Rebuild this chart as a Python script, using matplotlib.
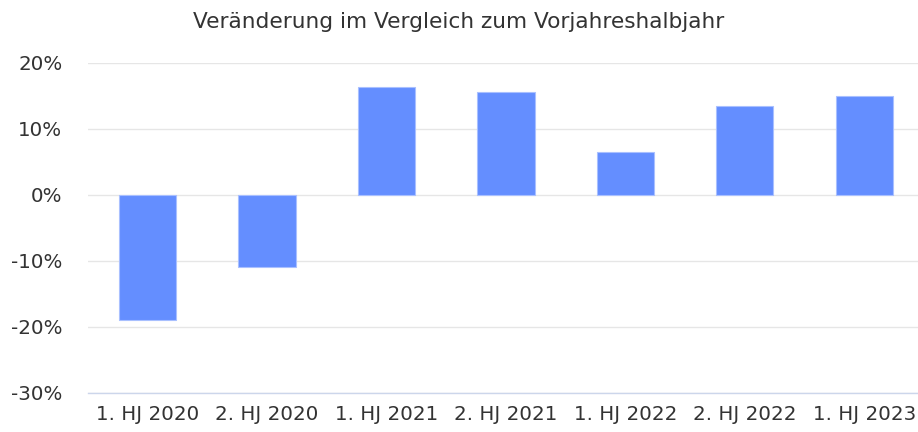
import matplotlib
matplotlib.use("Agg")
import matplotlib.pyplot as plt
from matplotlib.ticker import FuncFormatter

# Daten (Veränderung in %)
kategorien = ["1. HJ 2020", "2. HJ 2020", "1. HJ 2021", "2. HJ 2021",
              "1. HJ 2022", "2. HJ 2022", "1. HJ 2023"]
werte = [-18.9, -10.9, 16.4, 15.6, 6.5, 13.5, 15.0]
y_ticks = [-30, -20, -10, 0, 10, 20]

plt.rcParams['font.family'] = ['DejaVu Sans']

fig = plt.figure(figsize=(9.18, 4.32), dpi=100)
ax = fig.add_axes([88/918, 39/432, 830/918, 330/432])

x = list(range(len(kategorien)))
ax.bar(x, werte, width=0.48, color="#648eff", edgecolor="#a9c0ff", linewidth=0.8, zorder=3)

ax.set_ylim(-30, 20)
ax.set_xlim(-0.5, 6.45)
ax.set_yticks(y_ticks)
ax.yaxis.set_major_formatter(FuncFormatter(lambda v, p: "%d%%" % v))
ax.set_xticks(x)
ax.set_xticklabels(kategorien)

ax.grid(axis="y", color="#e6e6e6", linewidth=1, zorder=0)
for s in ["top", "right", "left"]:
    ax.spines[s].set_visible(False)
ax.spines["bottom"].set_color("#ccd6eb")
ax.spines["bottom"].set_linewidth(1)
ax.tick_params(axis="both", length=0, labelsize=14.3, colors="#333333")
ax.tick_params(axis="y", pad=18.5)
ax.tick_params(axis="x", pad=9)

fig.text(0.5, 1 - 22/432, "Veränderung im Vergleich zum Vorjahreshalbjahr",
         ha="center", va="center", fontsize=15.6, color="#333333")

fig.savefig("out.png", dpi=100)
